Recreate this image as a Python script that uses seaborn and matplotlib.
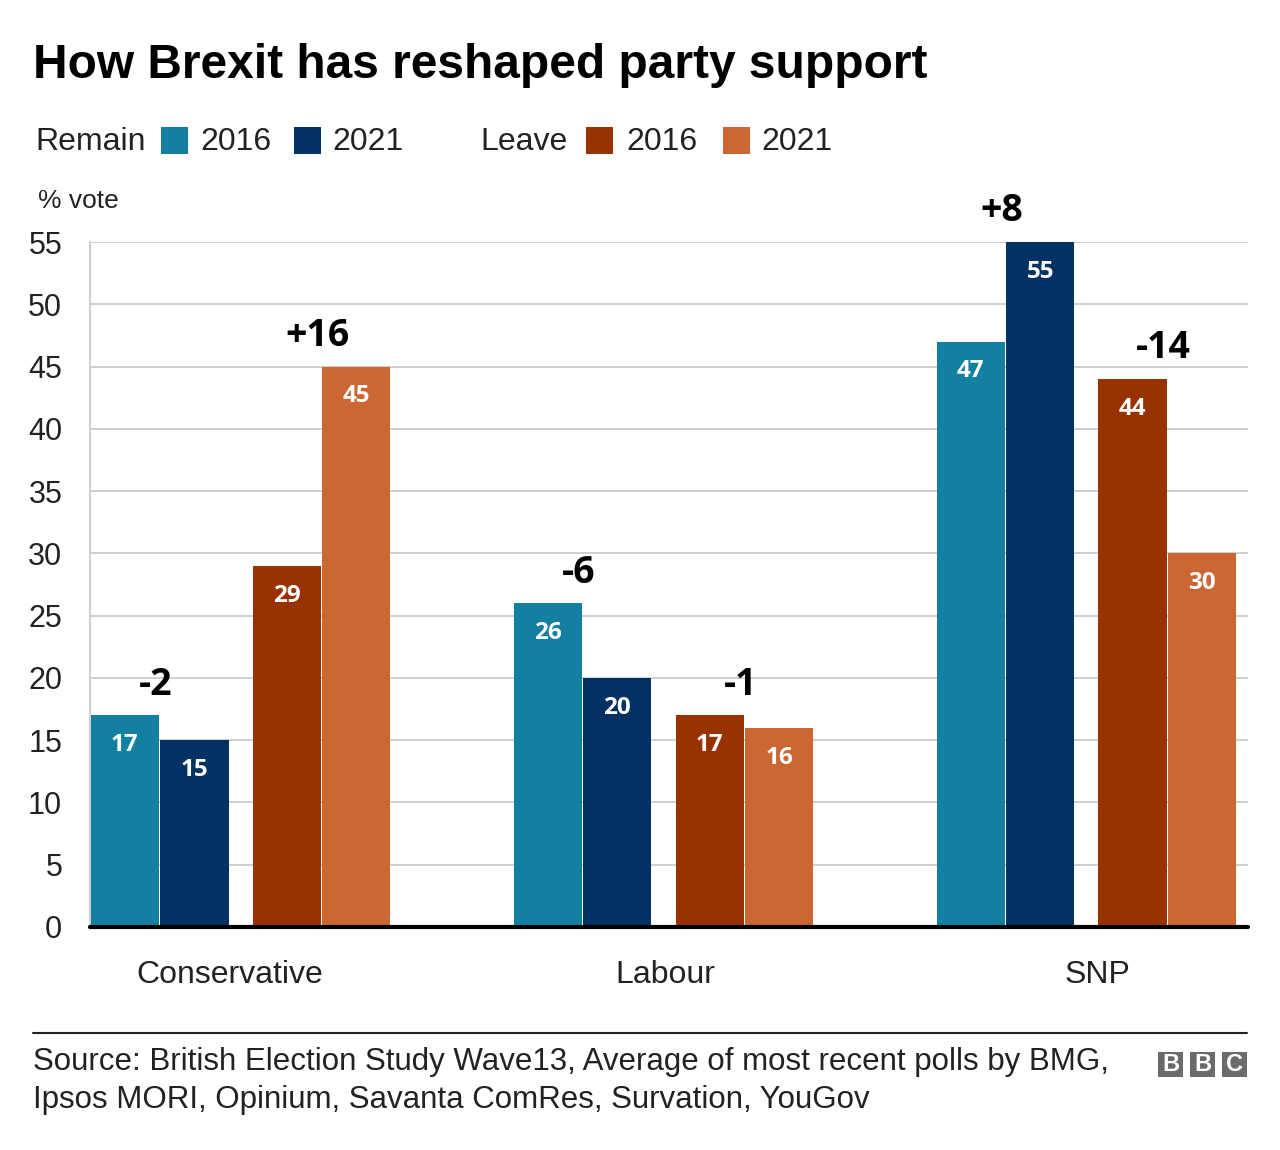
import matplotlib
matplotlib.use("Agg")
import matplotlib.pyplot as plt
import seaborn as sns
import numpy as np
from matplotlib.patches import Rectangle
from matplotlib.lines import Line2D

# ---- data ----
parties = ["Conservative", "Labour", "SNP"]
remain_2016 = [17, 26, 47]
remain_2021 = [15, 20, 55]
leave_2016 = [29, 17, 44]
leave_2021 = [45, 16, 30]
y_ticks = [0, 5, 10, 15, 20, 25, 30, 35, 40, 45, 50, 55]
title = "How Brexit has reshaped party support"
source_lines = ["Source: British Election Study Wave13, Average of most recent polls by BMG,",
                "Ipsos MORI, Opinium, Savanta ComRes, Survation, YouGov"]

# ---- style ----
sns.set_theme(style="white")
plt.rcParams['font.family'] = ['Liberation Sans', 'DejaVu Sans']

c_r16 = "#1380A1"
c_r21 = "#023264"
c_l16 = "#983200"
c_l21 = "#CC6633"

W, H = 1280, 1150
fig = plt.figure(figsize=(W / 100, H / 100), dpi=100)
ax = fig.add_axes([90 / W, 1 - 927 / H, (1248 - 90) / W, (927 - 242) / H])

x = np.arange(len(parties))
bw = 0.161
offs = [-0.274, -0.109, 0.109, 0.274]
series = [remain_2016, remain_2021, leave_2016, leave_2021]
colors = [c_r16, c_r21, c_l16, c_l21]

for off, vals, col in zip(offs, series, colors):
    bars = ax.bar(x + off, vals, width=bw, color=col, zorder=3, linewidth=0)
    for b, v in zip(bars, vals):
        ax.annotate(f"{v}", (b.get_x() + b.get_width() / 2, v), xytext=(0, -21.5),
                    textcoords="offset points", ha="center", va="center",
                    color="white", fontsize=17.5, fontweight="bold", family="Open Sans", zorder=4)

# change annotations
for i in range(len(parties)):
    for (a, b_), (o1, o2) in [((remain_2016, remain_2021), (offs[0], offs[1])),
                              ((leave_2016, leave_2021), (offs[2], offs[3]))]:
        d = b_[i] - a[i]
        top = max(a[i], b_[i])
        ax.annotate(f"{d:+d}", (x[i] + (o1 + o2) / 2, top), xytext=(-3, 22),
                    textcoords="offset points", ha="center", va="center",
                    color="#000000", fontsize=27, fontweight="bold", family="Open Sans", zorder=4)

ax.set_xlim(-0.356, 2.382)
ax.set_ylim(0, 55)
ax.set_yticks(y_ticks)
ax.set_yticklabels([str(t) for t in y_ticks])
ax.tick_params(axis="y", length=0, pad=20, labelsize=22, labelcolor="#222222")
label_shift = [-0.026, 0.005, 0.026]
ax.set_xticks(x + np.array(label_shift))
ax.set_xticklabels(parties)
ax.tick_params(axis="x", length=0, pad=24, labelsize=23, labelcolor="#222222")

ax.yaxis.grid(True, color="#cccccc", linewidth=1.3, zorder=0)
ax.set_axisbelow(True)
for s in ["top", "right", "bottom"]:
    ax.spines[s].set_visible(False)
ax.spines["left"].set_color("#cccccc")
ax.spines["left"].set_linewidth(1.3)
ax.axhline(0, color="#000000", linewidth=3, zorder=5, clip_on=False)

# title and y unit
fig.text(33 / W, 1 - 65 / H, title, fontsize=34.5, fontweight="bold", va="center", ha="left", color="#000000")
fig.text(38 / W, 1 - 201 / H, "% vote", fontsize=19, va="center", ha="left", color="#222222")

# legend
ly = 1 - 142 / H
def legend_item(xt, txt):
    fig.text(xt / W, ly, txt, fontsize=23, va="center", ha="left", color="#222222")
def legend_sq(xs, col):
    fig.patches.append(Rectangle((xs / W, 1 - 154 / H), 27 / W, 27 / H, transform=fig.transFigure,
                                 facecolor=col, edgecolor="none"))
legend_item(35, "Remain")
legend_sq(161, c_r16)
legend_item(200, "2016")
legend_sq(294, c_r21)
legend_item(332, "2021")
legend_item(480, "Leave")
legend_sq(586, c_l16)
legend_item(626, "2016")
legend_sq(723, c_l21)
legend_item(761, "2021")

# footer
fig.lines.append(Line2D([33 / W, 1247 / W], [1 - 1033 / H, 1 - 1033 / H], transform=fig.transFigure,
                        color="#222222", linewidth=1.5))
fig.text(33 / W, 1 - 1062 / H, source_lines[0], fontsize=22.5, va="center", ha="left", color="#222222")
fig.text(33 / W, 1 - 1100 / H, source_lines[1], fontsize=22.5, va="center", ha="left", color="#222222")

for xs, letter in zip([1158, 1190, 1222], ["B", "B", "C"]):
    fig.patches.append(Rectangle((xs / W, 1 - 1077 / H), 25 / W, 25 / H, transform=fig.transFigure,
                                 facecolor="#6b6b6b", edgecolor="none"))
    fig.text((xs + 12.5) / W, 1 - 1064.5 / H, letter, fontsize=17, fontweight="bold", color="white",
             ha="center", va="center")

fig.savefig("out.png", dpi=100, facecolor="white")
